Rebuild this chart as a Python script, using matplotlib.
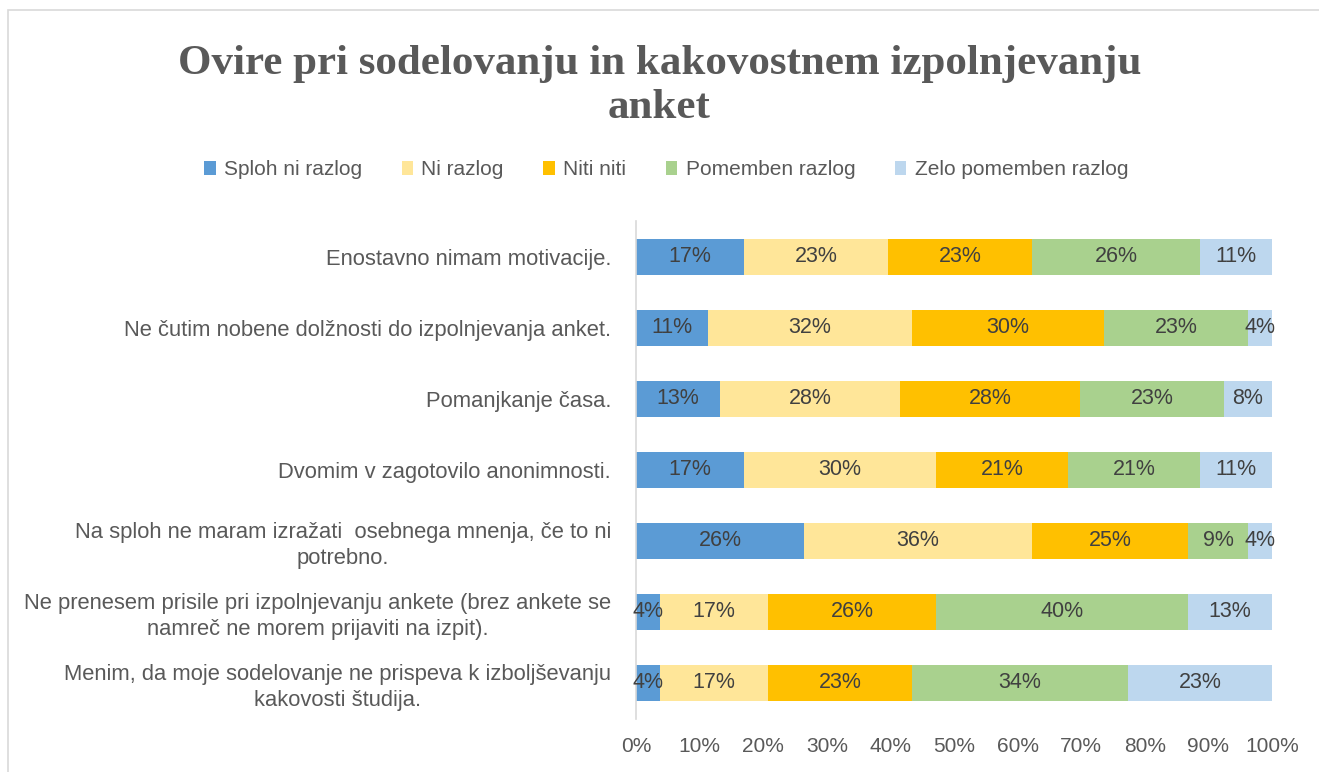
import matplotlib.pyplot as plt
from matplotlib.patches import Rectangle

# answers per statement (n = 53 respondents each)
categories = [
    "Enostavno nimam motivacije.",
    "Ne čutim nobene dolžnosti do izpolnjevanja anket.",
    "Pomanjkanje časa.",
    "Dvomim v zagotovilo anonimnosti.",
    "Na sploh ne maram izražati  osebnega mnenja, če to ni\npotrebno.",
    "Ne prenesem prisile pri izpolnjevanju ankete (brez ankete se\nnamreč ne morem prijaviti na izpit).",
    "Menim, da moje sodelovanje ne prispeva k izboljševanju\nkakovosti študija.",
]
series = ["Sploh ni razlog", "Ni razlog", "Niti niti", "Pomemben razlog", "Zelo pomemben razlog"]
sploh_ni = [9, 6, 7, 9, 14, 2, 2]
ni_razlog = [12, 17, 15, 16, 19, 9, 9]
niti_niti = [12, 16, 15, 11, 13, 14, 12]
pomemben = [14, 12, 12, 11, 5, 21, 18]
zelo_pomemben = [6, 2, 4, 6, 2, 7, 12]
n_total = 53

colors = ["#5B9BD5", "#FFE699", "#FFC000", "#A9D18E", "#BDD7EE"]
gray = "#595959"

plt.rcParams["font.family"] = ["Liberation Sans", "DejaVu Sans"]

fig = plt.figure(figsize=(13.19, 7.72), dpi=100)
fig.patches.append(Rectangle((8 / 1319, -0.1), 1.2, 1 - 10 / 772 + 0.1,
                             transform=fig.transFigure, fill=False,
                             edgecolor="#D9D9D9", linewidth=1.2))

ax = fig.add_axes([0.4822, 0.0693, 0.4822, 0.6438])

ypos = list(range(len(categories)))
left = [0.0] * len(categories)
for name, counts, col in zip(series,
                             [sploh_ni, ni_razlog, niti_niti, pomemben, zelo_pomemben],
                             colors):
    pct = [c / n_total * 100 for c in counts]
    bars = ax.barh(ypos, pct, left=left, height=0.51, color=col, label=name)
    for b, p in zip(bars, pct):
        ax.text(b.get_x() + b.get_width() / 2, b.get_y() + b.get_height() / 2,
                f"{p:.0f}%", ha="center", va="center", fontsize=15.5, color="#404040")
    left = [l + p for l, p in zip(left, pct)]

ax.set_xlim(0, 100)
ax.set_ylim(len(categories) - 0.5, -0.5)
ax.set_xticks(range(0, 101, 10))
ax.set_xticklabels([f"{t}%" for t in range(0, 101, 10)])
ax.set_yticks(ypos)
ax.set_yticklabels(categories, ha="right", multialignment="center", linespacing=1.3)
ax.tick_params(axis="x", length=0, pad=13, labelsize=15, labelcolor=gray)
ax.tick_params(axis="y", length=0, pad=18, labelsize=15.8, labelcolor=gray)
for s in ["top", "right", "bottom"]:
    ax.spines[s].set_visible(False)
ax.spines["left"].set_color("#D9D9D9")
ax.spines["left"].set_linewidth(1.2)

fig.text(0.5, 0.942, "Ovire pri sodelovanju in kakovostnem izpolnjevanju\nanket",
         ha="center", va="top", fontsize=31, fontweight="bold", color=gray,
         family="Liberation Serif", linespacing=1.22)

fig.legend(loc="center", bbox_to_anchor=(0.505, 0.78), ncol=5, frameon=False,
           fontsize=15, labelcolor=gray, handlelength=0.55, handleheight=0.7,
           handletextpad=0.4, columnspacing=1.9)

fig.savefig("out.png", dpi=100)
